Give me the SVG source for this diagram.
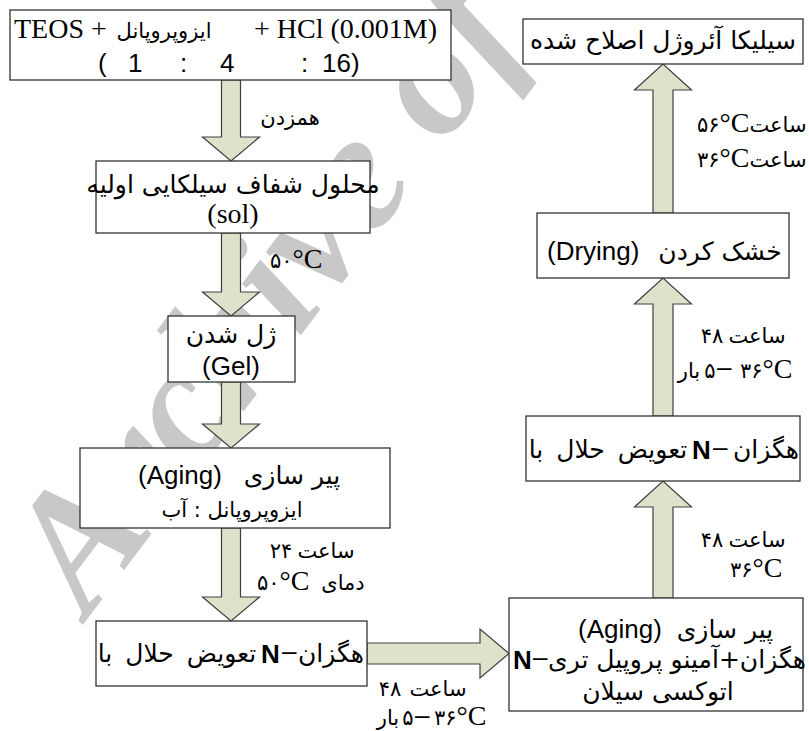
<svg xmlns="http://www.w3.org/2000/svg" width="809" height="731" viewBox="0 0 809 731">
<style>
.box{fill:#fff;stroke:#333;stroke-width:1.3}
.arr{fill:#dde2cb;stroke:#404040;stroke-width:1.2}
.fa{font-family:'DejaVu Sans','Noto Sans',sans-serif;font-size:21px;fill:#000;text-anchor:middle}
.fb{font-family:'DejaVu Sans','Noto Sans',sans-serif;font-size:25px;fill:#000;text-anchor:middle}
.lat{font-family:'Liberation Sans',Arial,sans-serif;font-size:26px;fill:#000}
.ser{font-family:'Liberation Serif','Times New Roman',serif;font-size:28px;fill:#000}
.b{font-weight:bold}
.wm{font-family:'Liberation Serif','Times New Roman',serif;font-style:italic;font-weight:bold;font-size:170px;fill:#c8c8c8}
</style>
<rect width="809" height="731" fill="#fff"/>
<text class="wm" transform="translate(88,618) rotate(-53)">Archive of</text>

<g id="connectors">
  <g id="c1"><polygon class="arr" points="221.5,80 240.5,80 240.5,137 259.5,137 231,161 202.5,137 221.5,137"/>
    <text class="fa" x="290" y="125">همزدن</text></g>
  <g id="c2"><polygon class="arr" points="221.5,233 240.5,233 240.5,292 259.5,292 231,316 202.5,292 221.5,292"/>
    <text x="270" y="268"><tspan class="fa" style="text-anchor:start">۵۰</tspan><tspan class="ser" font-size="26">°C</tspan></text></g>
  <g id="c3"><polygon class="arr" points="221.5,382 240.5,382 240.5,424 259.5,424 231,448 202.5,424 221.5,424"/></g>
  <g id="c4"><polygon class="arr" points="221.5,528 240.5,528 240.5,597 259.5,597 231,621 202.5,597 221.5,597"/>
    <text class="fa" x="281" y="558">۲۴</text><text class="fa" x="326" y="558">ساعت</text>
    <text x="257" y="590"><tspan class="fa" style="text-anchor:start">۵۰</tspan><tspan class="ser" font-size="26">°C</tspan></text>
    <text class="fa" x="343" y="590">دمای</text></g>
  <g id="c5"><polygon class="arr" points="367,643 480,643 480,629 509,653.5 480,678 480,664 367,664"/>
    <text class="fa" x="390" y="696">۴۸</text><text class="fa" x="438" y="696">ساعت</text>
    <text class="fa" x="388" y="725">بار</text>
    <text class="fa" x="408" y="725">۵</text>
    <text class="lat" font-size="20" x="415" y="724">–</text>
    <text x="434" y="725"><tspan class="fa" style="text-anchor:start">۳۶</tspan><tspan class="ser" font-size="26">°C</tspan></text></g>
  <g id="c6"><polygon class="arr" points="653,598 673,598 673,507 691.5,507 663,481 634.5,507 653,507"/>
    <text class="fa" x="712" y="547">۴۸</text><text class="fa" x="757" y="547">ساعت</text>
    <text x="730" y="577"><tspan class="fa" style="text-anchor:start">۳۶</tspan><tspan class="ser" font-size="26">°C</tspan></text></g>
  <g id="c7"><polygon class="arr" points="653,416 673,416 673,304 691.5,304 663,278 634.5,304 653,304"/>
    <text class="fa" x="712" y="343">۴۸</text><text class="fa" x="757" y="343">ساعت</text>
    <text class="fa" x="689" y="378">بار</text>
    <text class="fa" x="710" y="378">۵</text>
    <text class="lat" font-size="20" x="717" y="376">–</text>
    <text x="740" y="378"><tspan class="fa" style="text-anchor:start">۳۶</tspan><tspan class="ser" font-size="26">°C</tspan></text></g>
  <g id="c8"><polygon class="arr" points="653,213 673,213 673,90 691.5,90 663,64 634.5,90 653,90"/>
    <text x="697" y="132"><tspan class="fa" style="text-anchor:start">۵۶</tspan><tspan class="ser" font-size="26">°C</tspan></text>
    <text class="fa" x="778" y="132">ساعت</text>
    <text x="697" y="167"><tspan class="fa" style="text-anchor:start">۳۶</tspan><tspan class="ser" font-size="26">°C</tspan></text>
    <text class="fa" x="778" y="167">ساعت</text></g>
</g>

<g id="n1"><rect class="box" x="10" y="10" width="441" height="70"/>
  <text class="ser" x="14" y="38">TEOS +</text>
  <text class="fa" font-size="25" x="164" y="38">ایزوپروپانل</text>
  <text class="ser" x="437" y="38" text-anchor="end">+ HCl (0.001M)</text>
  <text class="lat" font-size="29" y="72"><tspan x="98">(</tspan><tspan x="128">1</tspan><tspan x="180">:</tspan><tspan x="220">4</tspan><tspan x="301">:</tspan><tspan x="322">16)</tspan></text>
</g>
<g id="n2"><rect class="box" x="96" y="161" width="274" height="72"/>
  <text class="fb" x="233" y="193">محلول شفاف سیلکایی اولیه</text>
  <text class="ser" font-size="30" x="233" y="223" text-anchor="middle">(sol)</text>
</g>
<g id="n3"><rect class="box" x="168" y="316" width="127" height="66"/>
  <text class="fb" x="231" y="343">ژل شدن</text>
  <text class="lat" font-size="28" x="231" y="375" text-anchor="middle">(Gel)</text>
</g>
<g id="n4"><rect class="box" x="80" y="448" width="310" height="80"/>
  <text class="lat" font-size="27" x="138" y="484">(Aging)</text>
  <text class="fb" font-size="26" x="292" y="484">پیر سازی</text>
  <text class="fa" font-size="23" x="232" y="517">ایزوپروپانل : آب</text>
</g>
<g id="n5"><rect class="box" x="96" y="621" width="271" height="65"/>
  <text class="fb" font-size="24" word-spacing="5" x="177" y="662">تعویض حلال با</text>
  <text class="lat b" font-size="28" x="261" y="663">N</text>
  <text class="lat" font-size="24" x="282" y="660">–</text>
  <text class="fb" x="331" y="662">هگزان</text>
</g>
<g id="n6"><rect class="box" x="509" y="598" width="294" height="113"/>
  <text class="lat" font-size="27" x="578" y="638">(Aging)</text>
  <text class="fb" font-size="26" x="725" y="638">پیر سازی</text>
  <text class="lat b" font-size="28" x="513" y="669">N</text>
  <text class="lat" font-size="24" x="533" y="666">–</text>
  <text class="fb" font-size="23" x="677" y="668">هگزان+آمینو پروپیل تری</text>
  <text class="fb" font-size="24" x="658" y="700">اتوکسی سیلان</text>
</g>
<g id="n7"><rect class="box" x="526" y="416" width="274" height="65"/>
  <text class="fb" font-size="24" word-spacing="5" x="608" y="458">تعویض حلال با</text>
  <text class="lat b" font-size="28" x="692" y="459">N</text>
  <text class="lat" font-size="24" x="713" y="456">–</text>
  <text class="fb" x="766" y="458">هگزان</text>
</g>
<g id="n8"><rect class="box" x="537" y="213" width="252" height="65"/>
  <text class="lat" x="547" y="260">(Drying)</text>
  <text class="fb" x="720" y="260">خشک کردن</text>
</g>
<g id="n9"><rect class="box" x="523" y="19" width="280" height="45"/>
  <text class="fb" font-size="24" x="663" y="49">سیلیکا آئروژل اصلاح شده</text>
</g>
</svg>
